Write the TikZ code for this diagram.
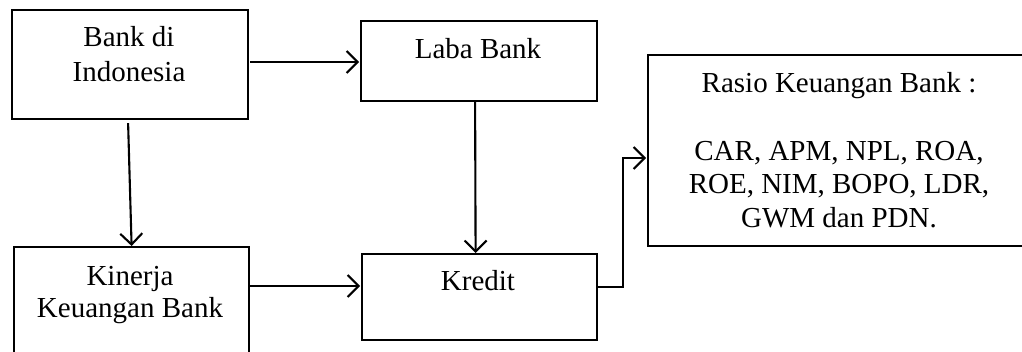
\documentclass[tikz,border=0pt]{standalone}
\usepackage{fontspec}
\setmainfont{Liberation Serif}
\usetikzlibrary{arrows.meta,calc}
\begin{document}
\begin{tikzpicture}[x=1pt,y=-1pt,
  box/.style={draw=black,line width=2.2pt,rectangle,inner sep=0pt,anchor=north west},
  txt/.style={anchor=base,inner sep=0pt,font=\fontsize{29}{34}\selectfont,align=center},
  arr/.style={draw=black,line width=2.1pt,-{Straight Barb[length=11pt,width=22pt,line width=2.1pt]}},
  ln/.style={draw=black,line width=2.1pt}]
\useasboundingbox (0,0) rectangle (1022,351);
\clip (0,0) rectangle (1022,351);
% boxes
\node[box,minimum width=236pt,minimum height=109pt] (bank) at (11,9) {};
\node[box,minimum width=236pt,minimum height=80pt] (laba) at (360,20) {};
\node[box,minimum width=235pt,minimum height=160pt] (kinerja) at (13,246) {};
\node[box,minimum width=235pt,minimum height=86pt] (kredit) at (361,253) {};
\node[box,minimum width=420pt,minimum height=191pt] (rasio) at (647,54) {};
% texts
\node[txt] (tbank1) at (129,46) {Bank di};
\node[txt] (tbank2) at (129,81) {Indonesia};
\node[txt] (tlaba) at (478,58) {Laba Bank};
\node[txt] (tkin1) at (130,285) {Kinerja};
\node[txt] (tkin2) at (130,317) {Keuangan Bank};
\node[txt] (tkredit) at (478,290) {Kredit};
\node[txt] (tr1) at (839,92) {Rasio Keuangan Bank :};
\node[txt] (tr2) at (839,160) {CAR, APM, NPL, ROA,};
\node[txt] (tr3) at (839,193) {ROE, NIM, BOPO, LDR,};
\node[txt] (tr4) at (839,227) {GWM dan PDN.};
% connectors
\draw[arr] ($(bank.north east)+(1,53)$) -- ($(laba.north west)+(-1,42)$);
\draw[arr] ($(bank.south)+(-2,3)$) -- (kinerja.north);
\draw[arr] ($(kinerja.north east)+(0,40)$) -- ($(kredit.north west)+(-1,33)$);
\draw[arr] ($(laba.south)+(-4,0)$) -- ($(kredit.north)+(-4,0)$);
\coordinate (kout) at ($(kredit.north east)+(0,34)$);
\coordinate (rin) at ($(rasio.north west)+(-1,104)$);
\draw[arr] (kout) -- ++(25,0) |- (rin);
\end{tikzpicture}
\end{document}
